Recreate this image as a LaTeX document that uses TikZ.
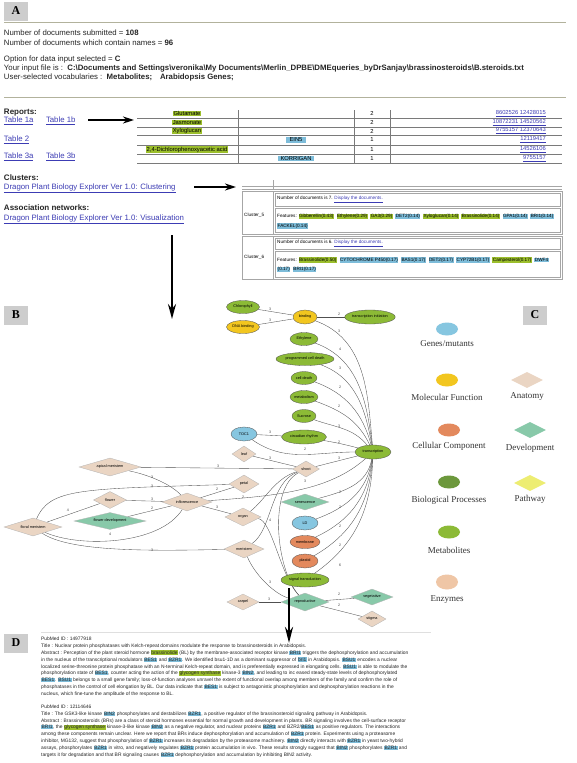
\documentclass[tikz,border=0pt]{standalone}
\usepackage{fontspec}
\setmainfont{Liberation Sans}
\newfontfamily\tmsfont{Liberation Serif}
\usetikzlibrary{shapes.geometric,arrows.meta}
\pgfdeclarelayer{bg}
\pgfsetlayers{bg,main}
\definecolor{linkblue}{HTML}{3C3CB4}
\definecolor{rulegray}{HTML}{B2B29C}
\definecolor{boxgray}{HTML}{CDCDCD}
\definecolor{hlgreen}{HTML}{9CBF2C}
\definecolor{hlblue}{HTML}{7DBCD9}
\definecolor{metgreen}{HTML}{8CBA36}
\definecolor{mfyellow}{HTML}{F2C61F}
\definecolor{geneblue}{HTML}{86C6E0}
\definecolor{ccorange}{HTML}{E3895D}
\definecolor{anabeige}{HTML}{EAD5C3}
\definecolor{devteal}{HTML}{88C9A9}
\definecolor{pathyellow}{HTML}{EDED72}
\definecolor{bpgreen}{HTML}{6C983C}
\definecolor{enzpeach}{HTML}{EFC6A6}
\definecolor{edgegray}{HTML}{505050}
\definecolor{tablegray}{HTML}{7A7A7A}
\newcommand{\hlG}[1]{{\setlength{\fboxsep}{0.5pt}\colorbox{hlgreen}{#1}}}
\newcommand{\hlB}[1]{{\setlength{\fboxsep}{0.5pt}\colorbox{hlblue}{#1}}}
\newcommand{\lnk}[1]{\textcolor{linkblue}{\underline{#1}}}
\begin{document}
\begin{tikzpicture}[x=1pt,y=-1pt,
  txt/.style={anchor=west, inner sep=0pt, outer sep=0pt, text=black!85, font=\fontsize{7.8}{9.4}\selectfont},
  hd/.style={txt, font=\fontsize{8}{9.6}\selectfont\bfseries},
  lk/.style={txt, text=linkblue, font=\fontsize{7.8}{9}\selectfont},
  secbox/.style={fill=boxgray, minimum width=24pt, minimum height=19pt, inner sep=0pt, font=\tmsfont\fontsize{12}{12}\selectfont\bfseries},
  rulel/.style={draw=rulegray, line width=1pt},
  tline/.style={draw=tablegray, line width=0.8pt},
  tt/.style={inner sep=0pt, font=\fontsize{5.8}{6.5}\selectfont},
  cl/.style={draw=gray!70, line width=0.5pt},
  ct/.style={anchor=west, inner sep=0pt, font=\fontsize{4.65}{5}\selectfont},
  bigarrow/.style={line width=2.2pt, -{Stealth[length=11pt,width=7pt]}},
  gn/.style={inner sep=0pt, draw=edgegray, line width=0.3pt, font=\fontsize{3.8}{4}\selectfont},
  ell/.style={gn, ellipse},
  dia/.style={gn, diamond, draw=gray!60, fill=anabeige},
  edge/.style={draw=edgegray, line width=0.35pt},
  lab/.style={inner sep=0pt, font=\fontsize{3.6}{4}\selectfont, text=black!75},
  leg/.style={inner sep=0pt, font=\tmsfont\fontsize{9}{10}\selectfont, text=black!80},
  lgell/.style={ellipse, inner sep=0pt, minimum width=22pt, minimum height=13pt},
  lgdia/.style={diamond, inner sep=0pt, aspect=2, minimum width=32pt, minimum height=16pt},
  dt/.style={anchor=west, inner sep=0pt, font=\fontsize{4.9}{5.5}\selectfont, text=black!85}
]
\useasboundingbox (0,0) rectangle (576,763);
\begin{pgfonlayer}{bg}
\fill[white] (0,0) rectangle (576,763);
\end{pgfonlayer}

% ---------------- Section A ----------------
\node[secbox] (boxA) at (16,11) {A};
\draw[rulel] (4,22) -- (566,22);
\node[txt] (a1) at (4,33) {Number of documents submitted = \textbf{108}};
\node[txt] (a2) at (4,43) {Number of documents which contain names = \textbf{96}};
\node[txt] (a3) at (4,59.5) {Option for data input selected = \textbf{C}};
\node[txt] (a4) at (4,68.5) {Your input file is :\ \ \textbf{C:\textbackslash Documents and Settings\textbackslash veronika\textbackslash My Documents\textbackslash Merlin\_DPBE\textbackslash DMEqueries\_byDrSanjay\textbackslash brassinosteroids\textbackslash B.steroids.txt}};
\node[txt] (a5) at (4,77.5) {User-selected vocabularies :\ \ \textbf{Metabolites;\quad Arabidopsis Genes;}};
\draw[rulel] (4,97) -- (566,97);

\node[hd] (rep) at (4,113) {Reports:};
\node[lk] (t1a) at (4,121) {\underline{Table 1a}};
\node[lk] (t1b) at (46,121) {\underline{Table 1b}};
\node[lk] (t2) at (4,140) {\underline{Table 2}};
\node[lk] (t3a) at (4,157) {\underline{Table 3a}};
\node[lk] (t3b) at (46,157) {\underline{Table 3b}};
\coordinate (ra1) at (88,120);
\coordinate (ra2) at (134,120);
\draw[bigarrow] (ra1) -- (ra2);

% reports table
\foreach \yy in {118,127,135,145,154,163} \draw[tline] (137,\yy) -- (562,\yy);
\foreach \xx in {238,354,390} \draw[tline] (\xx,110) -- (\xx,163);
\node[tt] (r1a) at (187,113.5) {\hlG{Glutamate}};
\node[tt] (r2a) at (187,122.5) {\hlG{Jasmonate}};
\node[tt] (r3a) at (187,131) {\hlG{Xyloglucan}};
\node[tt] (r4b) at (296,140) {\hlB{\ \ EIN5\ \ }};
\node[tt] (r5a) at (187,149.5) {\hlG{2,4-Dichlorophenoxyacetic acid}};
\node[tt] (r6b) at (296,158.5) {\hlB{\ KORRIGAN\ }};
\node[tt] (r1c) at (372,113.5) {2};
\node[tt] (r2c) at (372,122.5) {2};
\node[tt] (r3c) at (372,131) {2};
\node[tt] (r4c) at (372,140) {1};
\node[tt] (r5c) at (372,149.5) {1};
\node[tt] (r6c) at (372,158.5) {1};
\node[tt, anchor=east, text=linkblue] (r1d) at (546,113.5) {\underline{8602526 12428015}};
\node[tt, anchor=east, text=linkblue] (r2d) at (546,122.5) {\underline{10872231 14520562}};
\node[tt, anchor=east, text=linkblue] (r3d) at (546,131) {\underline{9755157 12370643}};
\node[tt, anchor=east, text=linkblue] (r4d) at (546,140) {\underline{12119417}};
\node[tt, anchor=east, text=linkblue] (r5d) at (546,149.5) {\underline{14526106}};
\node[tt, anchor=east, text=linkblue] (r6d) at (546,158.5) {\underline{9755157}};

% clusters
\node[hd] (clu) at (4,178) {Clusters:};
\node[lk] (cll) at (4,188) {\underline{Dragon Plant Biology Explorer Ver 1.0: Clustering}};
\coordinate (ca1) at (194,187);
\coordinate (ca2) at (236,187);
\draw[bigarrow] (ca1) -- (ca2);
\node[hd] (asn) at (4,208) {Association networks:};
\node[lk] (vis) at (4,219) {\underline{Dragon Plant Biology Explorer Ver 1.0: Visualization}};

\draw[cl] (242,186.5) -- (562,186.5);
\draw[cl] (242,189) -- (562,189);
\draw[cl] (273,180) -- (273,189);
% cluster 5
\draw[cl] (242,191) rectangle (562,234);
\draw[cl] (273,191) -- (273,234);
\draw[cl] (275,193) rectangle (560,206);
\draw[cl] (275,208) rectangle (560,232);
\node[ct] (c5l) at (244,215) {Cluster\_5};
\node[ct] (c5n) at (277,199.5) {Number of documents is 7. \lnk{Display the documents.}};
\node[ct] (c5f) at (277,216.5) {Features: \hlG{Gibberellin(0.43)}\ \ \hlG{Ethylene(0.29)}\ \ \hlG{GA3(0.29)}\ \ \hlB{DET2(0.14)}\ \ \hlG{Xyloglucan(0.14)}\ \ \hlG{Brassinolide(0.14)}\ \ \hlB{GPA1(0.14)}\ \ \hlB{BRI1(0.14)}};
\node[ct] (c5g) at (277,226) {\hlB{FACKEL(0.14)}};
% cluster 6
\draw[cl] (242,236) rectangle (562,279);
\draw[cl] (273,236) -- (273,279);
\draw[cl] (275,238) rectangle (560,249);
\draw[cl] (275,251) rectangle (560,277);
\node[ct] (c6l) at (244,257) {Cluster\_6};
\node[ct] (c6n) at (277,243.5) {Number of documents is 6. \lnk{Display the documents.}};
\node[ct] (c6f) at (277,260) {Features: \hlG{Brassinolide(0.50)}\ \ \hlB{CYTOCHROME P450(0.17)}\ \ \hlB{BAS1(0.17)}\ \ \hlB{DET2(0.17)}\ \ \hlB{CYP72B1(0.17)}\ \ \hlG{Campesterol(0.17)}\ \ \hlB{DWF4}};
\node[ct] (c6g) at (277,269.5) {\hlB{(0.17)}\ \ \hlB{BRI1(0.17)}};

\coordinate (va1) at (172,235);
\coordinate (va2) at (172,319);
\draw[line width=2.2pt, -{Stealth[length=15pt,width=8pt]}] (va1) -- (va2);

% ---------------- Section B : graph ----------------
\node[secbox] (boxB) at (16,315) {B};
\node[secbox] (boxC) at (535,315) {C};

\node[ell, fill=metgreen, minimum width=33pt, minimum height=13pt] (chloro) at (243,307) {Chlorophyll};
\node[ell, fill=mfyellow, minimum width=33pt, minimum height=13pt] (dnab) at (243,327) {DNA binding};
\node[ell, fill=mfyellow, minimum width=24pt, minimum height=14pt] (binding) at (305,317) {binding};
\node[ell, fill=metgreen, minimum width=50pt, minimum height=14pt] (tinit) at (370,317) {transcription initiation};
\node[ell, fill=metgreen, minimum width=28pt, minimum height=13pt] (ethyl) at (304,339) {Ethylene};
\node[ell, fill=metgreen, minimum width=58pt, minimum height=13pt] (pcd) at (305,359) {programmed cell death};
\node[ell, fill=metgreen, minimum width=26pt, minimum height=13pt] (celld) at (304,378) {cell death};
\node[ell, fill=metgreen, minimum width=28pt, minimum height=13pt] (metab) at (304,397) {metabolism};
\node[ell, fill=metgreen, minimum width=24pt, minimum height=13pt] (sucr) at (304,416) {Sucrose};
\node[ell, fill=metgreen, minimum width=45pt, minimum height=14pt] (circ) at (304,437) {circadian rhythm};
\node[ell, fill=geneblue, minimum width=26pt, minimum height=14pt] (toc1) at (244,434) {TOC1};
\node[ell, fill=metgreen, minimum width=36pt, minimum height=14pt] (transcr) at (373,452) {transcription};
\node[dia, aspect=1.5, minimum width=24pt, minimum height=16pt] (leaf) at (244,454) {leaf};
\node[dia, aspect=1.7, minimum width=27pt, minimum height=16pt] (shoot) at (306,469) {shoot};
\node[dia, aspect=1.67, minimum width=30pt, minimum height=18pt] (petal) at (244,484) {petal};
\node[dia, aspect=3.44, minimum width=62pt, minimum height=18pt] (apical) at (110,467) {apical meristem};
\node[dia, aspect=1.94, minimum width=33pt, minimum height=17pt] (flower) at (110,500) {flower};
\node[dia, aspect=4.2, fill=devteal, minimum width=72pt, minimum height=17pt] (fdev) at (110,521) {flower development};
\node[dia, aspect=2.8, minimum width=50pt, minimum height=18pt] (inflor) at (187,502) {inflorescence};
\node[dia, aspect=3.2, minimum width=58pt, minimum height=18pt] (floral) at (33,527) {floral meristem};
\node[dia, aspect=2, minimum width=36pt, minimum height=18pt] (organ) at (243,517) {organ};
\node[dia, aspect=2.2, minimum width=40pt, minimum height=18pt] (meristem) at (244,549) {meristem};
\node[dia, aspect=3, fill=devteal, minimum width=48pt, minimum height=16pt] (senes) at (305,502) {senescence};
\node[ell, fill=geneblue, minimum width=26pt, minimum height=14pt] (ld) at (305,523) {LD};
\node[ell, fill=ccorange, minimum width=30pt, minimum height=13pt] (membr) at (305,542) {membrane};
\node[ell, fill=ccorange, minimum width=26pt, minimum height=14pt] (plast) at (305,561) {plastid};
\node[ell, fill=metgreen, minimum width=48pt, minimum height=14pt] (sigtr) at (305,580) {signal transduction};
\node[dia, aspect=2, minimum width=32pt, minimum height=16pt] (carpel) at (243,602) {carpel};
\node[dia, aspect=2.67, fill=devteal, minimum width=48pt, minimum height=18pt] (reprod) at (305,602) {reproductive};
\node[dia, aspect=2.6, fill=devteal, minimum width=42pt, minimum height=16pt] (veget) at (372,597) {vegetative};
\node[dia, aspect=1.75, minimum width=28pt, minimum height=16pt] (stigma) at (372,619) {stigma};

\begin{pgfonlayer}{bg}
\draw[edge] (chloro) -- (binding);
\draw[edge] (dnab) -- (binding);
\draw[edge] (binding) -- (tinit);
\draw[edge] (binding) to[out=-20,in=95] (transcr);
\draw[edge] (ethyl) to[out=-20,in=97] (transcr);
\draw[edge] (pcd) to[out=-20,in=100] (transcr);
\draw[edge] (celld) to[out=-20,in=105] (transcr);
\draw[edge] (metab) to[out=-20,in=115] (transcr);
\draw[edge] (sucr) to[out=-20,in=130] (transcr);
\draw[edge] (circ) to[out=-10,in=165] (transcr);
\draw[edge] (toc1) -- (circ);
\draw[edge] (toc1) to[out=-35,in=180] (transcr);
\draw[edge] (leaf) -- (shoot);
\draw[edge] (apical) -- (shoot);
\draw[edge] (shoot) -- (transcr);
\draw[edge] (senes) to[out=15,in=-100] (transcr);
\draw[edge] (ld) to[out=20,in=-98] (transcr);
\draw[edge] (membr) to[out=25,in=-96] (transcr);
\draw[edge] (plast) to[out=30,in=-94] (transcr);
\draw[edge] (sigtr) to[out=35,in=-92] (transcr);
\draw[edge] (apical) .. controls (150,475) and (172,485) .. (inflor);
\draw[edge] (floral) .. controls (50,488) and (80,489) .. (petal);
\draw[edge] (flower) -- (inflor);
\draw[edge] (floral) -- (flower);
\draw[edge] (fdev) -- (inflor);
\draw[edge] (inflor) -- (petal);
\draw[edge] (inflor) -- (organ);
\draw[edge] (floral) .. controls (80,548) and (160,545) .. (inflor);
\draw[edge] (floral) .. controls (70,552) and (150,551) .. (meristem);
\draw[edge] (organ) .. controls (265,500) and (275,478) .. (shoot);
\draw[edge] (meristem) .. controls (272,530) and (270,482) .. (shoot);
\draw[edge] (reprod) .. controls (276,570) and (268,488) .. (shoot);
\draw[edge] (inflor) .. controls (280,496) and (330,490) .. (transcr);
\draw[edge] (organ) .. controls (272,520) and (280,575) .. (reprod);
\draw[edge] (meristem) .. controls (255,575) and (275,595) .. (reprod);
\draw[edge] (carpel) -- (reprod);
\draw[edge] (reprod) -- (veget);
\draw[edge] (reprod) -- (stigma);
\end{pgfonlayer}

% edge labels
\node[lab] (l1) at (270,309) {3};
\node[lab] (l2) at (270,320) {3};
\node[lab] (l3) at (339,314) {2};
\node[lab] (l4) at (339,331) {3};
\node[lab] (l5) at (340,349) {4};
\node[lab] (l6) at (340,368) {3};
\node[lab] (l7) at (340,387) {2};
\node[lab] (l8) at (339,406) {2};
\node[lab] (l9) at (339,426) {3};
\node[lab] (l10) at (339,442) {2};
\node[lab] (l11) at (270,432) {3};
\node[lab] (l12) at (305,449) {2};
\node[lab] (l13) at (270,458) {3};
\node[lab] (l14) at (218,466) {3};
\node[lab] (l15) at (339,458) {3};
\node[lab] (l16) at (305,481) {3};
\node[lab] (l17) at (340,492) {2};
\node[lab] (l18) at (340,507) {2};
\node[lab] (l19) at (340,526) {2};
\node[lab] (l20) at (340,545) {2};
\node[lab] (l21) at (340,565) {6};
\node[lab] (l22) at (152,477) {3};
\node[lab] (l23) at (152,486) {3};
\node[lab] (l24) at (152,499) {3};
\node[lab] (l25) at (68,510) {4};
\node[lab] (l26) at (152,508) {2};
\node[lab] (l27) at (217,489) {2};
\node[lab] (l28) at (217,507) {3};
\node[lab] (l29) at (243,497) {2};
\node[lab] (l30) at (110,534) {4};
\node[lab] (l31) at (152,550) {3};
\node[lab] (l32) at (270,520) {4};
\node[lab] (l33) at (270,582) {3};
\node[lab] (l34) at (269,599) {3};
\node[lab] (l35) at (339,594) {2};
\node[lab] (l36) at (339,605) {2};

% ---------------- Section C : legend ----------------
\node[lgell, fill=geneblue] (lgG) at (447,329) {};
\node[leg] (lgGt) at (447,344) {Genes/mutants};
\node[lgell, fill=mfyellow] (lgM) at (447,380) {};
\node[leg] (lgMt) at (447,397) {Molecular Function};
\node[lgdia, fill=anabeige] (lgA) at (527,380) {};
\node[leg] (lgAt) at (527,396) {Anatomy};
\node[lgell, fill=ccorange] (lgC) at (449,430) {};
\node[leg] (lgCt) at (449,446) {Cellular Component};
\node[lgdia, fill=devteal] (lgD) at (530,430) {};
\node[leg] (lgDt) at (530,448) {Development};
\node[lgell, fill=bpgreen] (lgB) at (449,482) {};
\node[leg] (lgBt) at (449,500) {Biological Processes};
\node[lgdia, fill=pathyellow] (lgP) at (530,483) {};
\node[leg] (lgPt) at (530,499) {Pathway};
\node[lgell, fill=metgreen] (lgMe) at (449,532) {};
\node[leg] (lgMet) at (449,550) {Metabolites};
\node[lgell, fill=enzpeach, minimum height=15pt] (lgE) at (447,582) {};
\node[leg] (lgEt) at (447,600) {Enzymes};

% ---------------- Section D ----------------
\node[secbox] (boxD) at (16,643) {D};
\draw[gray!25, line width=0.6pt] (41,632) -- (431,632);
\begin{scope}
\clip (38,634) rectangle (431,760);
\node[dt] (d1) at (41,639) {PubMed ID : 14977918};
\node[dt] (d2) at (41,646) {Title : Nuclear protein phosphatases with Kelch-repeat domains modulate the response to brassinosteroids in Arabidopsis.};
\node[dt] (d3) at (41,653) {Abstract : Perception of the plant steroid hormone \hlG{brassinolide} (BL) by the membrane-associated receptor kinase \hlB{BRI1} triggers the dephosphorylation and accumulation};
\node[dt] (d4) at (41,660) {in the nucleus of the transcriptional modulators \hlB{BES1} and \hlB{BZR1}. We identified bsu1-1D as a dominant suppressor of \hlB{bri1} in Arabidopsis. \hlB{BSU1} encodes a nuclear};
\node[dt] (d5) at (41,667) {localized serine-threonine protein phosphatase with an N-terminal Kelch-repeat domain, and is preferentially expressed in elongating cells. \hlB{BSU1} is able to modulate the};
\node[dt] (d6) at (41,673.5) {phosphorylation state of \hlB{BES1}, counter acting the action of the \hlG{glycogen synthase} kinase-3 \hlB{BIN2}, and leading to inc eased steady-state levels of dephosphorylated};
\node[dt] (d7) at (41,680) {\hlB{BES1}. \hlB{BSU1} belongs to a small gene family; loss-of-function analyses unravel the extent of functional overlap among members of the family and confirm the role of};
\node[dt] (d8) at (41,687) {phosphatases in the control of cell elongation by BL. Our data indicate that \hlB{BES1} is subject to antagonistic phosphorylation and dephosphorylation reactions in the};
\node[dt] (d9) at (41,694) {nucleus, which fine-tune the amplitude of the response to BL.};
\node[dt] (d10) at (41,707) {PubMed ID : 12114646};
\node[dt] (d11) at (41,714) {Title : The GSK3-like kinase \hlB{BIN2} phosphorylates and destabilizes \hlB{BZR1}, a positive regulator of the brassinosteroid signaling pathway in Arabidopsis.};
\node[dt] (d12) at (41,721) {Abstract : Brassinosteroids (BRs) are a class of steroid hormones essential for normal growth and development in plants. BR signaling involves the cell-surface receptor};
\node[dt] (d13) at (41,727.5) {\hlB{BRI1}, the \hlG{glycogen synthase} kinase-3-like kinase \hlB{BIN2} as a negative regulator, and nuclear proteins \hlB{BZR1} and BZR2/\hlB{BES1} as positive regulators. The interactions};
\node[dt] (d14) at (41,734) {among these components remain unclear. Here we report that BRs induce dephosphorylation and accumulation of \hlB{BZR1} protein. Experiments using a proteasome};
\node[dt] (d15) at (41,741) {inhibitor, MG132, suggest that phosphorylation of \hlB{BZR1} increases its degradation by the proteasome machinery. \hlB{BIN2} directly interacts with \hlB{BZR1} in yeast two-hybrid};
\node[dt] (d16) at (41,748) {assays, phosphorylates \hlB{BZR1} in vitro, and negatively regulates \hlB{BZR1} protein accumulation in vivo. These results strongly suggest that \hlB{BIN2} phosphorylates \hlB{BZR1} and};
\node[dt] (d17) at (41,755) {targets it for degradation and that BR signaling causes \hlB{BZR1} dephosphorylation and accumulation by inhibiting BIN2 activity.};
\end{scope}

\coordinate (da1) at (289,588);
\coordinate (da2) at (289,643);
\draw[line width=2.8pt, -{Stealth[length=16pt,width=8pt]}] (da1) -- (da2);
\end{tikzpicture}
\end{document}
